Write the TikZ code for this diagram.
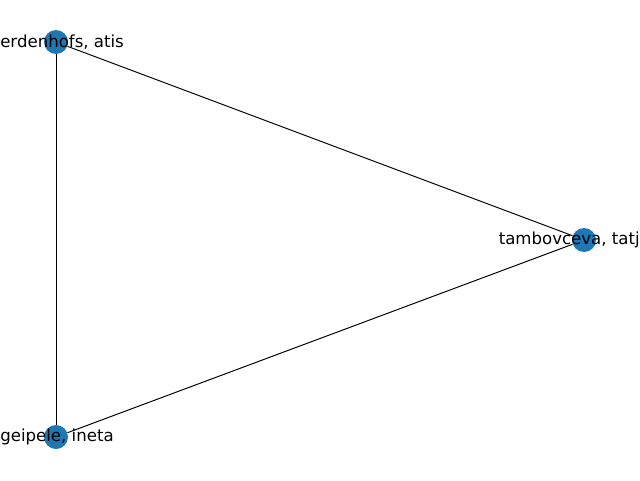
\documentclass[tikz,border=0pt]{standalone}
\usepackage{fontspec}
\setmainfont{DejaVu Sans}
\usepackage{xcolor}
\definecolor{nxblue}{HTML}{1F77B4}
\usepackage{tikz}
\usetikzlibrary{positioning}

\begin{document}
\begin{tikzpicture}[
    vertex/.style={circle, fill=nxblue, minimum size=0.6cm, inner sep=0pt},
    lbl/.style={inner sep=0pt, font=\fontsize{11.8}{14}\selectfont},
    edge/.style={draw=black, line width=0.7pt}
]
\useasboundingbox (0,0) rectangle (16,12);
\clip (0,0) rectangle (16,12);
\node[vertex] (verd) at (1.4,10.95) {};
\node[vertex] (tamb) at (14.6,6.0) {};
\node[vertex] (geip) at (1.4,1.075) {};
\draw[edge] (verd) -- (tamb);
\draw[edge] (verd) -- (geip);
\draw[edge] (tamb) -- (geip);
\node[lbl, anchor=west] (verdlbl) at (0,10.95) {erdenhofs, atis};
\node[lbl, anchor=east] (tamblbl) at (16,6.0) {tambovceva, tatj};
\node[lbl, anchor=west] (geiplbl) at (0,1.075) {geipele, ineta};
\end{tikzpicture}
\end{document}
